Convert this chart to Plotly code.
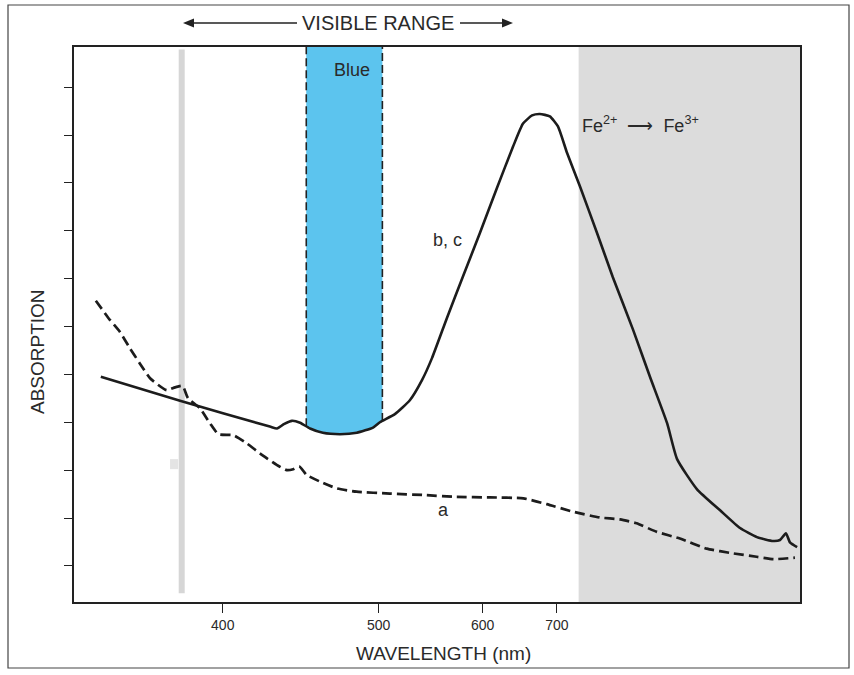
import numpy as np
import plotly.graph_objects as go

# ---- data (wavenumber in cm^-1, absorption in arbitrary units) ----
solid_wn = [28910, 26370, 23490, 23260, 23040, 22780, 22520, 22200, 21790, 21240, 20700, 20180,
            19960, 19480, 19000, 18610, 18290, 17810, 17300, 16750, 16210, 15690, 15370, 15080,
            14830, 14510, 14250, 13960, 13540, 13000, 12490, 11840, 11300, 10750, 10430, 9790,
            9050, 8410, 7870, 7350, 7130, 6940, 6810, 6580]
solid_abs = [3.95, 3.45, 2.91, 2.87, 2.96, 3.03, 2.99, 2.87, 2.78, 2.75, 2.78, 2.89,
             3.00, 3.17, 3.46, 3.88, 4.34, 5.18, 6.04, 6.96, 7.89, 8.76, 9.24, 9.41,
             9.44, 9.39, 9.18, 8.63, 7.92, 6.96, 6.03, 4.93, 3.95, 2.98, 2.23, 1.60,
             1.16, 0.79, 0.60, 0.52, 0.54, 0.68, 0.49, 0.39]

dashed_wn = [29070, 28620, 28300, 27980, 27660, 27330, 26800, 26530, 26290, 26110, 25730, 25410,
             25140, 24660, 24230, 23810, 23270, 22950, 22740, 22550, 22310, 21880, 21350, 20710,
             19640, 18570, 17500, 16430, 15360, 14610, 13760, 12900, 12260, 11730, 11080, 10340,
             9480, 8630, 7880, 7340, 6650]
dashed_abs = [5.54, 5.14, 4.89, 4.55, 4.23, 3.92, 3.67, 3.73, 3.76, 3.50, 3.29, 2.98,
              2.75, 2.73, 2.56, 2.35, 2.11, 2.00, 2.02, 2.08, 1.90, 1.76, 1.62, 1.55,
              1.51, 1.48, 1.44, 1.43, 1.41, 1.29, 1.13, 1.01, 0.97, 0.89, 0.71, 0.57,
              0.36, 0.26, 0.19, 0.14, 0.17]

tick_nm = [400, 500, 600, 700]
tick_labels = ["400", "500", "600", "700"]
blue_band_nm = [448, 503]
grey_start_nm = 736
grey_line_nm = 380

x_range = [29770, 6488]
y_range = [-0.755, 10.84]
y_ticks = list(range(0, 11))

to_wn = lambda nm: 1e7 / np.asarray(nm, dtype=float)

fig = go.Figure()

# blue band, bounded below by curve b, c
b_hi, b_lo = float(to_wn(blue_band_nm[0])), float(to_wn(blue_band_nm[1]))
sw = np.array(solid_wn[::-1], float)
sa = np.array(solid_abs[::-1], float)
y_at_hi = float(np.interp(b_hi, sw, sa))
y_at_lo = float(np.interp(b_lo, sw, sa))
inside = [(w, a) for w, a in zip(solid_wn, solid_abs) if b_lo < w < b_hi]
poly_x = [b_hi] + [w for w, _ in inside] + [b_lo, b_lo, b_hi, b_hi]
poly_y = [y_at_hi] + [a for _, a in inside] + [y_at_lo, y_range[1], y_range[1], y_at_hi]
fig.add_trace(go.Scatter(x=poly_x, y=poly_y, fill="toself", fillcolor="#5cc4ee",
                         line=dict(width=0), mode="lines", hoverinfo="skip", showlegend=False))
for bx, by in [(b_hi, y_at_hi), (b_lo, y_at_lo)]:
    fig.add_trace(go.Scatter(x=[bx, bx], y=[by, y_range[1]], mode="lines",
                             line=dict(color="#222222", width=1.6, dash="8px,4px"),
                             hoverinfo="skip", showlegend=False))

# curves
fig.add_trace(go.Scatter(x=dashed_wn, y=dashed_abs, mode="lines",
                         line=dict(color="#1c1c1c", width=2.7, dash="10px,5px", shape="spline", smoothing=0.5),
                         showlegend=False))
fig.add_trace(go.Scatter(x=solid_wn, y=solid_abs, mode="lines",
                         line=dict(color="#1c1c1c", width=2.6, shape="spline", smoothing=0.5),
                         showlegend=False))


def px(X):
    return (X - 74) / 726


def py(Y):
    return (602 - Y) / 555


def tri(tip_x, direction, Y=23, length=11, half=4.5):
    bx = tip_x + direction * length
    return "M {} {} L {} {} L {} {} Z".format(px(tip_x), py(Y), px(bx), py(Y - half), px(bx), py(Y + half))


shapes = [
    dict(type="rect", xref="x", yref="paper", x0=float(to_wn(grey_start_nm)), x1=x_range[1],
         y0=0, y1=1, fillcolor="#dcdcdc", line=dict(width=0), layer="below"),
    dict(type="line", xref="x", yref="y", x0=float(to_wn(grey_line_nm)), x1=float(to_wn(grey_line_nm)),
         y0=-0.57, y1=10.79, line=dict(color="#d6d6d6", width=6), layer="below"),
    dict(type="rect", xref="x", yref="y", x0=26690, x1=26430, y0=2.02, y1=2.23,
         fillcolor="#e4e4e4", line=dict(width=0), layer="below"),
    # outer frame
    dict(type="rect", xref="paper", yref="paper",
         x0=px(8), x1=px(849), y0=py(668), y1=py(5),
         line=dict(color="#444444", width=1.2), fillcolor="rgba(0,0,0,0)"),
    # visible-range arrows
    dict(type="line", xref="paper", yref="paper", x0=px(190), x1=px(297), y0=py(23), y1=py(23),
         line=dict(color="#222222", width=1.3)),
    dict(type="line", xref="paper", yref="paper", x0=px(460), x1=px(506), y0=py(23), y1=py(23),
         line=dict(color="#222222", width=1.3)),
    dict(type="path", xref="paper", yref="paper", path=tri(183, 1),
         fillcolor="#222222", line=dict(width=0)),
    dict(type="path", xref="paper", yref="paper", path=tri(513, -1),
         fillcolor="#222222", line=dict(width=0)),
]

font_family = "Liberation Sans, Arial, sans-serif"
txt = "#2a2a2a"


def label(text, X, Y, size, **kw):
    d = dict(text=text, xref="paper", yref="paper", x=px(X), y=py(Y), showarrow=False,
             xanchor="center", yanchor="middle", font=dict(size=size, color=txt, family=font_family))
    d.update(kw)
    return d


annotations = [
    label("VISIBLE RANGE", 378, 23, 20),
    label("Blue", 352, 70, 18),
    label("b, c", 447, 240, 18),
    label("a", 443, 510, 18),
    label("Fe<sup>2+</sup>\u00a0\u00a0⟶\u00a0\u00a0Fe<sup>3+</sup>", 580, 124, 18, xanchor="left"),
    label("ABSORPTION", 38, 352, 19, textangle=-90),
    label("WAVELENGTH (nm)", 443, 653, 19),
]

fig.update_layout(
    width=854, height=675, autosize=False,
    margin=dict(l=74, r=54, t=47, b=73),
    paper_bgcolor="white", plot_bgcolor="white",
    shapes=shapes, annotations=annotations, showlegend=False,
    xaxis=dict(range=x_range, tickvals=list(to_wn(tick_nm)), ticktext=tick_labels,
               ticks="outside", ticklen=9, tickwidth=1.2, tickcolor="#222",
               showline=True, linecolor="#222", linewidth=1.5, mirror=True,
               showgrid=False, zeroline=False,
               tickfont=dict(size=14, color=txt, family=font_family)),
    yaxis=dict(range=y_range, tickvals=y_ticks, showticklabels=False,
               ticks="outside", ticklen=8, tickwidth=1.2, tickcolor="#222",
               showline=True, linecolor="#222", linewidth=1.5, mirror=True,
               showgrid=False, zeroline=False),
)

fig.write_html("out.html", config={"displayModeBar": False},
               post_script="document.body.style.margin='0px';")
